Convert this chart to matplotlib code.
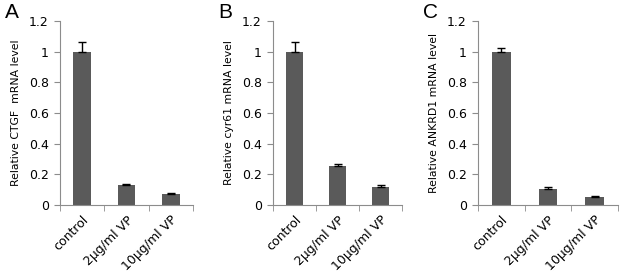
import numpy as np
import matplotlib.pyplot as plt

categories = ['control', '2μg/ml VP', '10μg/ml VP']
panel_letters = ['A', 'B', 'C']
ylabels = ['Relative CTGF  mRNA level', 'Relative cyr61 mRNA level',
           'Relative ANKRD1 mRNA level']
ctgf = [1.0, 0.13, 0.075]
ctgf_err = [0.06, 0.005, 0.005]
cyr61 = [1.0, 0.255, 0.12]
cyr61_err = [0.065, 0.012, 0.012]
ankrd1 = [1.0, 0.105, 0.055]
ankrd1_err = [0.025, 0.012, 0.005]
yticks = [0, 0.2, 0.4, 0.6, 0.8, 1, 1.2]
yticklabels = ['0', '0.2', '0.4', '0.6', '0.8', '1', '1.2']

values = [ctgf, cyr61, ankrd1]
errors = [ctgf_err, cyr61_err, ankrd1_err]

fig = plt.figure(figsize=(6.21, 2.74), dpi=100)
# axes boxes in pixels: left, right
boxes = [(60, 193), (273, 402), (478, 618)]
W, H = 621, 274
top, bottom = 21, 205
axis_col = '#8c8c8c'

for i in range(3):
    l, r = boxes[i]
    ax = fig.add_axes([l / W, 1 - bottom / H, (r - l) / W, (bottom - top) / H])
    x = np.arange(3)
    ax.bar(x, values[i], width=0.4, color='#5a5a5a', zorder=2)
    ax.errorbar(x, values[i], yerr=[np.zeros(3), errors[i]], fmt='none',
                ecolor='black', elinewidth=1, capsize=2.6, capthick=1, zorder=3)
    ax.set_xlim(-0.5, 2.5)
    ax.set_ylim(0, 1.2)
    ax.set_yticks(yticks)
    ax.set_yticklabels(yticklabels, fontsize=9)
    ax.set_xticks(x)
    ax.set_xticklabels(categories, rotation=45, ha='right', rotation_mode='anchor',
                       fontsize=9)
    ax.tick_params(axis='x', length=0, pad=6)
    ax.set_xticks([-0.5, 0.5, 1.5, 2.5], minor=True)
    ax.tick_params(axis='x', which='minor', length=4, color=axis_col, direction='out')
    ax.tick_params(axis='y', length=4, color=axis_col, direction='out', pad=4)
    for s in ['top', 'right']:
        ax.spines[s].set_visible(False)
    for s in ['left', 'bottom']:
        ax.spines[s].set_color(axis_col)
    ax.set_ylabel(ylabels[i], fontsize=7.8, labelpad=6)
    fig.text((l - 55) / W, 1 - 3 / H, panel_letters[i], fontsize=15,
             family='Liberation Sans', va='top', ha='left')

fig.savefig('out.png', dpi=100)
